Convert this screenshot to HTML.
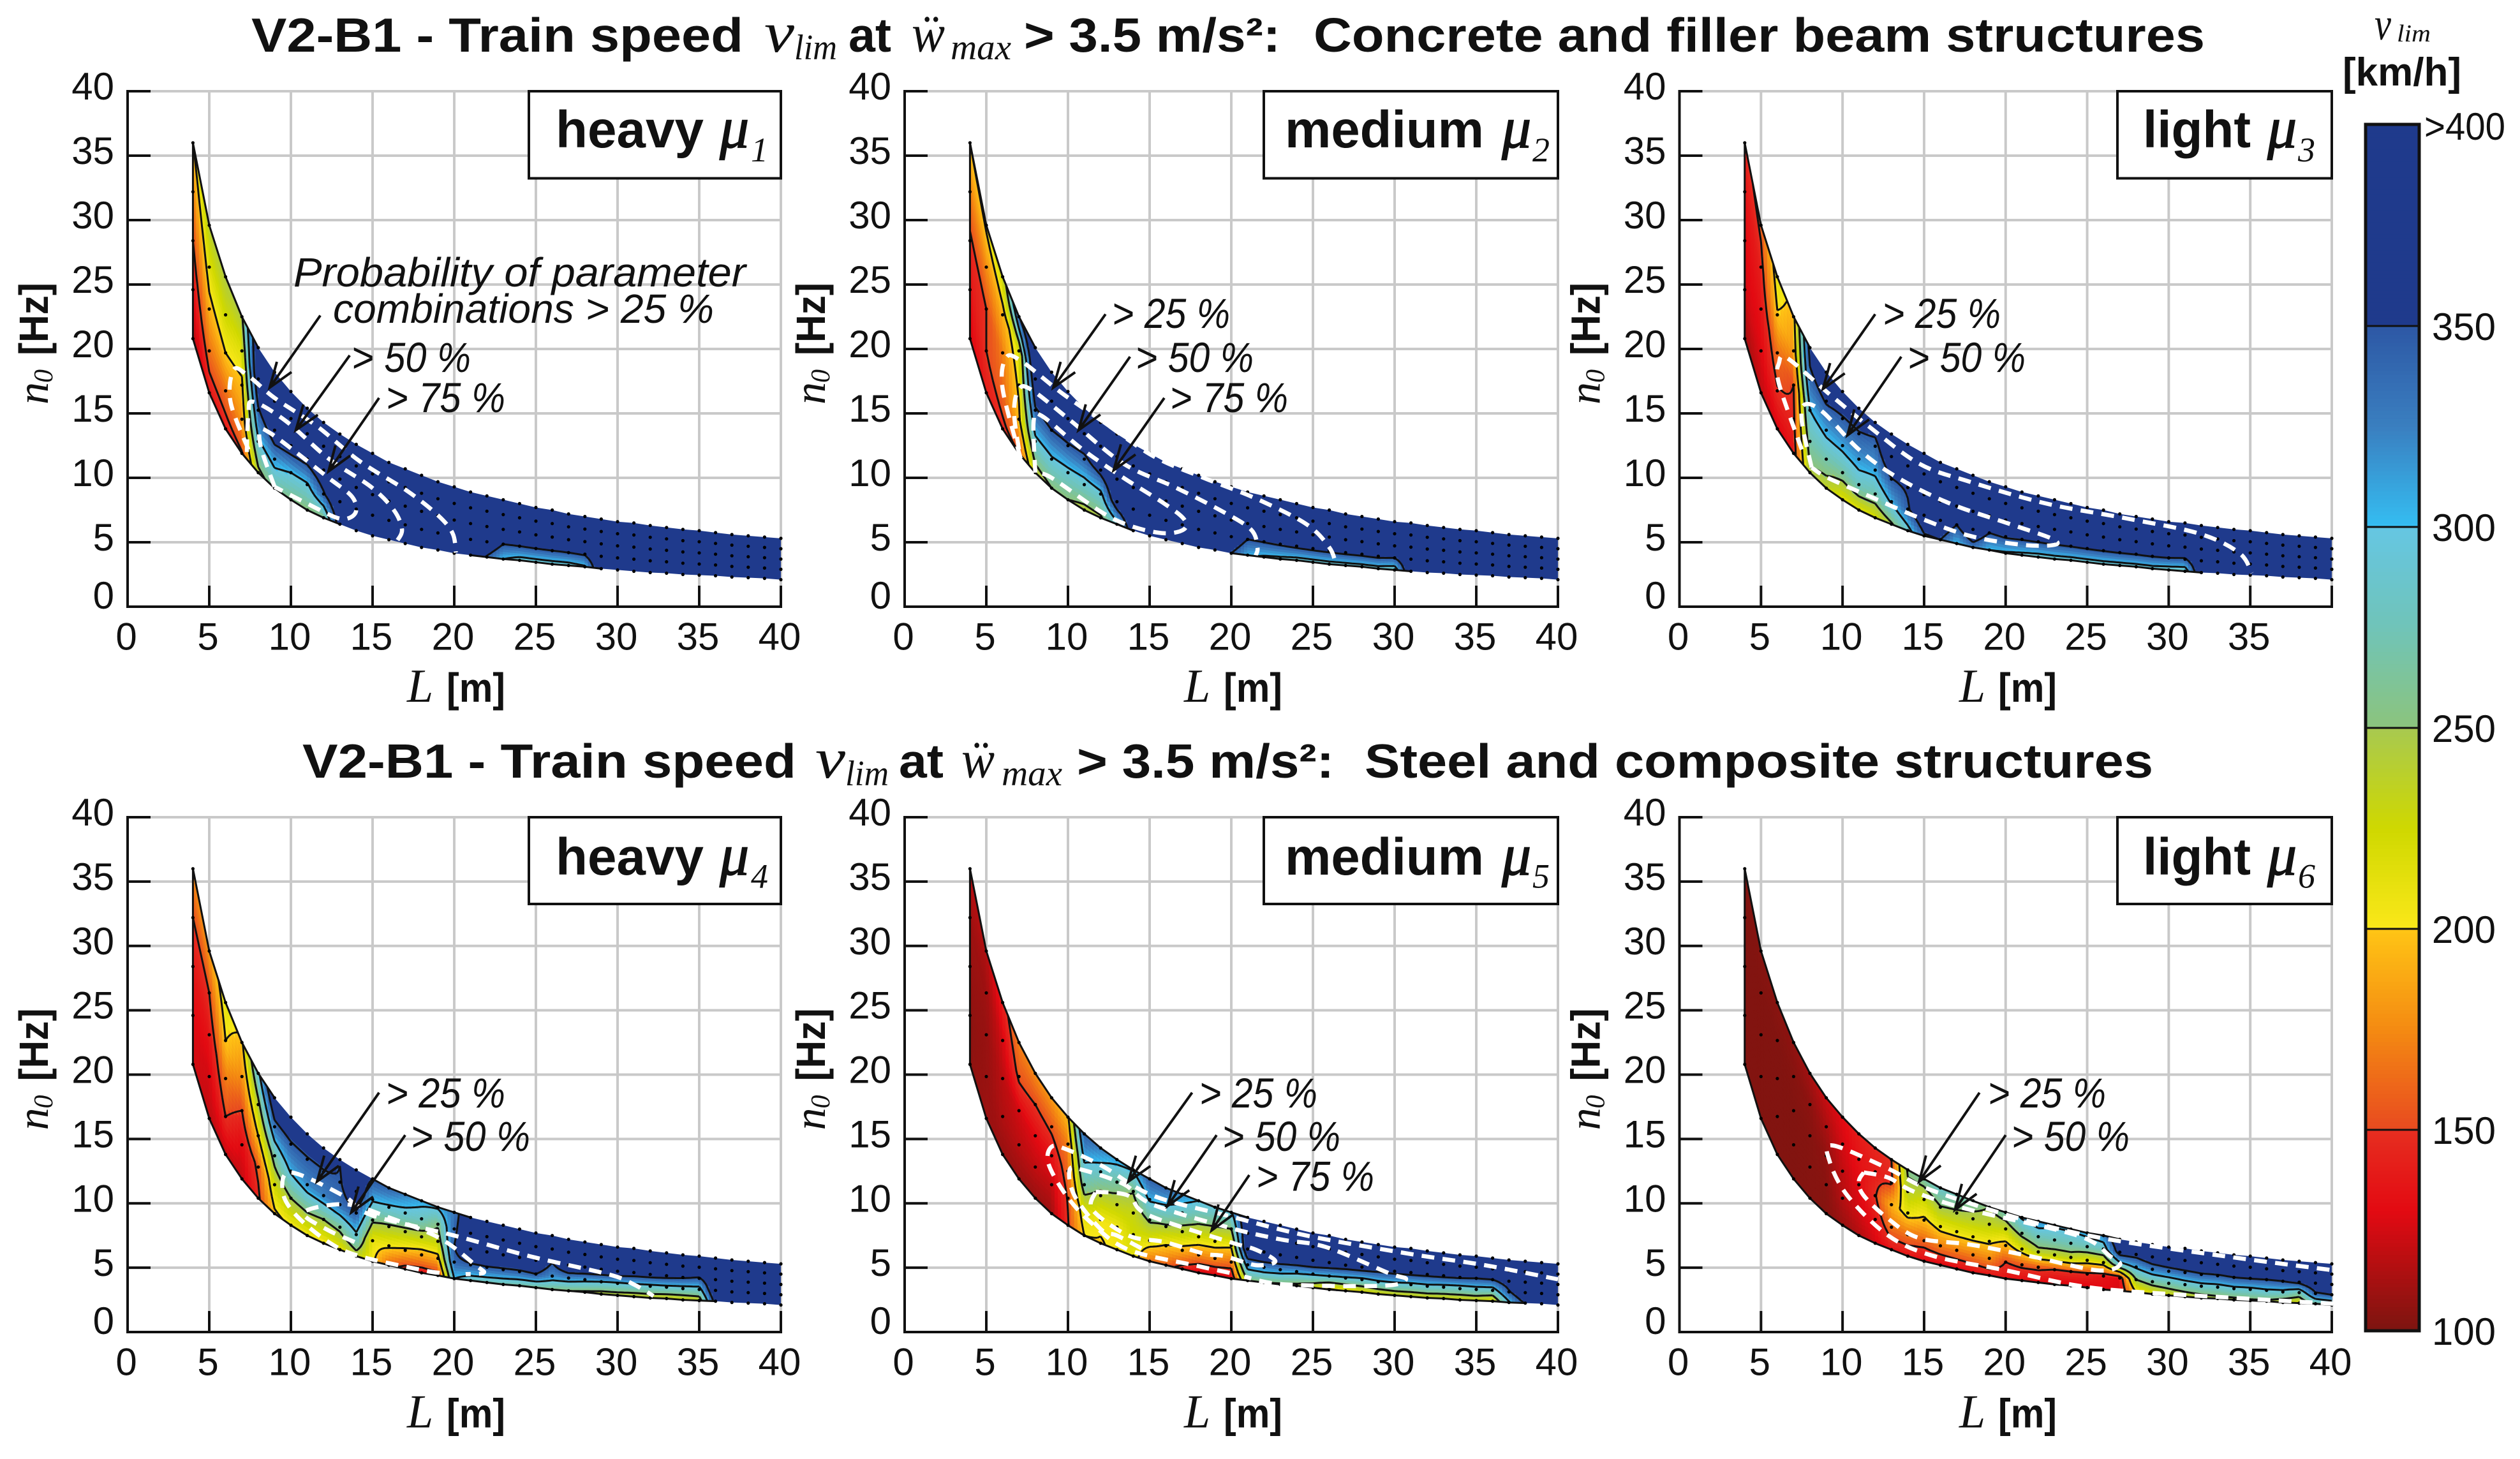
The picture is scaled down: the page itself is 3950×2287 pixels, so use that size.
<!DOCTYPE html>
<html lang="en">
<head>
<meta charset="utf-8">
<title>V2-B1 train speed charts</title>
<style>
html,body{margin:0;padding:0;background:#fff;}
#page{position:relative;width:3950px;height:2287px;overflow:hidden;background:#fff;}
svg{display:block;}
text{fill:#111;}
.b{font-family:"Liberation Sans",sans-serif;font-weight:bold;}
.s{font-family:"Liberation Sans",sans-serif;}
.i{font-family:"Liberation Sans",sans-serif;font-style:italic;font-size:66px;}
.p{font-family:"Liberation Sans",sans-serif;font-style:italic;font-size:64px;}
.m{font-family:"Liberation Serif",serif;font-style:italic;}
.u{font-family:"Liberation Serif",serif;font-style:italic;stroke:#111;stroke-width:1.5px;}
</style>
</head>
<body>
<div id="page">
<svg id="fig" xmlns="http://www.w3.org/2000/svg" width="3950" height="2287" viewBox="0 0 3950 2287">
<g id="plots"></g>
<g id="colorbar"></g>

<g>
<text class="b" x="394" y="81" font-size="75" textLength="771" lengthAdjust="spacingAndGlyphs">V2-B1 - Train speed</text>
<text class="m" x="1198" y="81" font-size="90" textLength="47" lengthAdjust="spacingAndGlyphs">v</text>
<text class="m" x="1245" y="93" font-size="56" textLength="67" lengthAdjust="spacingAndGlyphs">lim</text>
<text class="b" x="1330" y="81" font-size="75" textLength="67" lengthAdjust="spacingAndGlyphs">at</text>
<text class="m" x="1429" y="81" font-size="84" textLength="52" lengthAdjust="spacingAndGlyphs">ẅ</text>
<text class="m" x="1490" y="93" font-size="56" textLength="95" lengthAdjust="spacingAndGlyphs">max</text>
<text class="b" x="1605" y="81" font-size="75" textLength="402" lengthAdjust="spacingAndGlyphs">&gt; 3.5 m/s²:</text>
<text class="b" x="2059" y="81" font-size="75" textLength="1397" lengthAdjust="spacingAndGlyphs">Concrete and filler beam structures</text>
</g>
<g>
<text class="b" x="474" y="1219" font-size="75" textLength="774" lengthAdjust="spacingAndGlyphs">V2-B1 - Train speed</text>
<text class="m" x="1278" y="1219" font-size="90" textLength="47" lengthAdjust="spacingAndGlyphs">v</text>
<text class="m" x="1325" y="1231" font-size="56" textLength="68" lengthAdjust="spacingAndGlyphs">lim</text>
<text class="b" x="1409" y="1219" font-size="75" textLength="70" lengthAdjust="spacingAndGlyphs">at</text>
<text class="m" x="1507" y="1219" font-size="84" textLength="52" lengthAdjust="spacingAndGlyphs">ẅ</text>
<text class="m" x="1570" y="1231" font-size="56" textLength="95" lengthAdjust="spacingAndGlyphs">max</text>
<text class="b" x="1688" y="1219" font-size="75" textLength="403" lengthAdjust="spacingAndGlyphs">&gt; 3.5 m/s²:</text>
<text class="b" x="2139" y="1219" font-size="75" textLength="1236" lengthAdjust="spacingAndGlyphs">Steel and composite structures</text>
</g>

<g>
<text class="m" x="3722" y="62" font-size="72" textLength="26" lengthAdjust="spacingAndGlyphs">v</text>
<text class="m" x="3757" y="65" font-size="38" textLength="53" lengthAdjust="spacingAndGlyphs">lim</text>
<text class="b" x="3672" y="134" font-size="62" textLength="186" lengthAdjust="spacingAndGlyphs">[km/h]</text>
</g>

<!-- axis titles -->
<g>
<text class="m" x="638" y="1100" font-size="74">L</text><text class="b" x="700" y="1100" font-size="64" textLength="92" lengthAdjust="spacingAndGlyphs">[m]</text>
<text class="m" x="1856" y="1100" font-size="74">L</text><text class="b" x="1918" y="1100" font-size="64" textLength="92" lengthAdjust="spacingAndGlyphs">[m]</text>
<text class="m" x="3071" y="1100" font-size="74">L</text><text class="b" x="3132" y="1100" font-size="64" textLength="92" lengthAdjust="spacingAndGlyphs">[m]</text>
<text class="m" x="638" y="2237.5" font-size="74">L</text><text class="b" x="700" y="2237.5" font-size="64" textLength="92" lengthAdjust="spacingAndGlyphs">[m]</text>
<text class="m" x="1856" y="2237.5" font-size="74">L</text><text class="b" x="1918" y="2237.5" font-size="64" textLength="92" lengthAdjust="spacingAndGlyphs">[m]</text>
<text class="m" x="3071" y="2237.5" font-size="74">L</text><text class="b" x="3132" y="2237.5" font-size="64" textLength="92" lengthAdjust="spacingAndGlyphs">[m]</text>
</g>
<g>
<g transform="translate(0,0)">
<text class="m" transform="translate(75,634) rotate(-90)" font-size="70">n</text>
<text class="m" transform="translate(82,600) rotate(-90)" font-size="42">0</text>
<text class="b" transform="translate(75,557) rotate(-90)" font-size="64" textLength="114" lengthAdjust="spacingAndGlyphs">[Hz]</text>
</g>
<g transform="translate(1218,0)">
<text class="m" transform="translate(75,634) rotate(-90)" font-size="70">n</text>
<text class="m" transform="translate(82,600) rotate(-90)" font-size="42">0</text>
<text class="b" transform="translate(75,557) rotate(-90)" font-size="64" textLength="114" lengthAdjust="spacingAndGlyphs">[Hz]</text>
</g>
<g transform="translate(2432.5,0)">
<text class="m" transform="translate(75,634) rotate(-90)" font-size="70">n</text>
<text class="m" transform="translate(82,600) rotate(-90)" font-size="42">0</text>
<text class="b" transform="translate(75,557) rotate(-90)" font-size="64" textLength="114" lengthAdjust="spacingAndGlyphs">[Hz]</text>
</g>
<g transform="translate(0,1137.5)">
<text class="m" transform="translate(75,634) rotate(-90)" font-size="70">n</text>
<text class="m" transform="translate(82,600) rotate(-90)" font-size="42">0</text>
<text class="b" transform="translate(75,557) rotate(-90)" font-size="64" textLength="114" lengthAdjust="spacingAndGlyphs">[Hz]</text>
</g>
<g transform="translate(1218,1137.5)">
<text class="m" transform="translate(75,634) rotate(-90)" font-size="70">n</text>
<text class="m" transform="translate(82,600) rotate(-90)" font-size="42">0</text>
<text class="b" transform="translate(75,557) rotate(-90)" font-size="64" textLength="114" lengthAdjust="spacingAndGlyphs">[Hz]</text>
</g>
<g transform="translate(2432.5,1137.5)">
<text class="m" transform="translate(75,634) rotate(-90)" font-size="70">n</text>
<text class="m" transform="translate(82,600) rotate(-90)" font-size="42">0</text>
<text class="b" transform="translate(75,557) rotate(-90)" font-size="64" textLength="114" lengthAdjust="spacingAndGlyphs">[Hz]</text>
</g>
</g>

<!-- legend boxes -->
<g>
<g><rect x="829" y="143" width="395" height="136.5" fill="#fff" stroke="#111" stroke-width="4"/>
<text class="b" x="871" y="231" font-size="82" textLength="232" lengthAdjust="spacingAndGlyphs">heavy</text><text class="u" x="1128" y="231" font-size="92">μ</text><text class="m" x="1177" y="253" font-size="54">1</text></g>
<g><rect x="1981" y="143" width="461" height="136.5" fill="#fff" stroke="#111" stroke-width="4"/>
<text class="b" x="2014" y="231" font-size="82" textLength="312" lengthAdjust="spacingAndGlyphs">medium</text><text class="u" x="2354" y="231" font-size="92">μ</text><text class="m" x="2402" y="253" font-size="54">2</text></g>
<g><rect x="3319" y="143" width="336" height="136.5" fill="#fff" stroke="#111" stroke-width="4"/>
<text class="b" x="3359" y="231" font-size="82" textLength="169" lengthAdjust="spacingAndGlyphs">light</text><text class="u" x="3554" y="231" font-size="92">μ</text><text class="m" x="3602" y="253" font-size="54">3</text></g>
<g><rect x="829" y="1281" width="395" height="136" fill="#fff" stroke="#111" stroke-width="4"/>
<text class="b" x="871" y="1371" font-size="82" textLength="232" lengthAdjust="spacingAndGlyphs">heavy</text><text class="u" x="1128" y="1371" font-size="92">μ</text><text class="m" x="1177" y="1391.5" font-size="54">4</text></g>
<g><rect x="1981" y="1281" width="461" height="136" fill="#fff" stroke="#111" stroke-width="4"/>
<text class="b" x="2014" y="1371" font-size="82" textLength="312" lengthAdjust="spacingAndGlyphs">medium</text><text class="u" x="2354" y="1371" font-size="92">μ</text><text class="m" x="2402" y="1391.5" font-size="54">5</text></g>
<g><rect x="3319" y="1281" width="336" height="136" fill="#fff" stroke="#111" stroke-width="4"/>
<text class="b" x="3359" y="1371" font-size="82" textLength="169" lengthAdjust="spacingAndGlyphs">light</text><text class="u" x="3554" y="1371" font-size="92">μ</text><text class="m" x="3602" y="1391.5" font-size="54">6</text></g>
</g>

<!-- probability annotation labels -->
<g>
<text class="p" x="460" y="449" textLength="709" lengthAdjust="spacingAndGlyphs">Probability of parameter</text>
<text class="p" x="522" y="506" textLength="597" lengthAdjust="spacingAndGlyphs">combinations &gt; 25 %</text>
<text class="i" x="551" y="583" textLength="187" lengthAdjust="spacingAndGlyphs">&gt; 50 %</text>
<text class="i" x="605" y="646" textLength="187" lengthAdjust="spacingAndGlyphs">&gt; 75 %</text>
<text class="i" x="1743" y="514" textLength="185" lengthAdjust="spacingAndGlyphs">&gt; 25 %</text>
<text class="i" x="1780" y="583" textLength="185" lengthAdjust="spacingAndGlyphs">&gt; 50 %</text>
<text class="i" x="1834" y="646" textLength="185" lengthAdjust="spacingAndGlyphs">&gt; 75 %</text>
<text class="i" x="2951" y="514" textLength="185" lengthAdjust="spacingAndGlyphs">&gt; 25 %</text>
<text class="i" x="2990" y="583" textLength="185" lengthAdjust="spacingAndGlyphs">&gt; 50 %</text>
<text class="i" x="605" y="1736" textLength="187" lengthAdjust="spacingAndGlyphs">&gt; 25 %</text>
<text class="i" x="644" y="1804" textLength="187" lengthAdjust="spacingAndGlyphs">&gt; 50 %</text>
<text class="i" x="1880" y="1736" textLength="185" lengthAdjust="spacingAndGlyphs">&gt; 25 %</text>
<text class="i" x="1916" y="1804" textLength="185" lengthAdjust="spacingAndGlyphs">&gt; 50 %</text>
<text class="i" x="1969" y="1866.5" textLength="185" lengthAdjust="spacingAndGlyphs">&gt; 75 %</text>
<text class="i" x="3116" y="1736" textLength="185" lengthAdjust="spacingAndGlyphs">&gt; 25 %</text>
<text class="i" x="3153" y="1804" textLength="185" lengthAdjust="spacingAndGlyphs">&gt; 50 %</text>
</g>
</svg>
</div>

<script>
// ---- axis labels ----
const xTickValues = [0,5,10,15,20,25,30,35,40];
const yTickValues = [0,5,10,15,20,25,30,35,40];
const colorbarValues = [100,150,200,250,300,350];
const colorbarTopLabel = ">400";

// ---- parameter band, read per integer span ----
const spanLengths = [4,5,6,7,8,9,10,11,12,13,14,15,16,17,18,19,20,21,22,23,24,25,26,27,28,29,30,31,32,33,34,35,36,37,38,39,40];
const upperBound = [36,29.6,25.6,22.5,20.1,18.2,16.7,15.4,14.3,13.4,12.6,11.9,11.2,10.7,10.2,9.7,9.3,8.9,8.6,8.3,8,7.7,7.5,7.2,7,6.8,6.6,6.5,6.3,6.15,6,5.9,5.75,5.6,5.5,5.4,5.3];
const lowerBound = [20.8,16.6,13.8,11.9,10.4,9.2,8.3,7.5,6.9,6.4,5.9,5.5,5.2,4.9,4.6,4.4,4.15,4,3.85,3.7,3.6,3.45,3.3,3.2,3.1,2.95,2.85,2.75,2.65,2.6,2.5,2.45,2.4,2.3,2.25,2.2,2.1];

// ---- vlim [km/h] by span (rows) and position across the band, bottom to top (columns) ----
const fieldMu1 = [
[115,132,150,172,198],[135,165,190,215,240],[140,165,200,225,245],[148,180,195,215,245],
[240,295,345,395,400],[265,315,385,400,400],[255,300,375,400,400],[250,295,365,400,400],
[255,345,385,400,400],[375,400,400,400,400],[400,400,400,400,400],[400,400,400,400,400],
[400,400,400,400,400],[400,400,400,400,400],[400,400,400,400,400],[400,400,400,400,400],
[400,400,400,400,400],[400,400,400,400,400],[345,400,400,400,400],[300,350,400,400,400],
[285,350,400,400,400],[285,350,400,400,400],[285,350,400,400,400],[285,350,400,400,400],
[295,355,400,400,400],[400,400,400,400,400],[400,400,400,400,400],[400,400,400,400,400],
[400,400,400,400,400],[400,400,400,400,400],[400,400,400,400,400],[400,400,400,400,400],
[400,400,400,400,400],[400,400,400,400,400],[400,400,400,400,400],[400,400,400,400,400],
[400,400,400,400,400]];
const fieldMu2 = [
[125,135,145,170,200],[140,150,150,175,205],[145,160,170,190,225],[150,195,205,215,345],
[235,290,345,395,400],[250,295,350,400,400],[250,290,345,400,400],[240,285,340,390,400],
[245,290,365,400,400],[285,385,400,400,400],[385,400,400,400,400],[400,400,400,400,400],
[400,400,400,400,400],[400,400,400,400,400],[400,400,400,400,400],[400,400,400,400,400],
[350,400,400,400,400],[305,350,400,400,400],[295,352,400,400,400],[290,355,400,400,400],
[285,360,400,400,400],[285,360,400,400,400],[285,360,400,400,400],[285,360,400,400,400],
[285,360,400,400,400],[285,360,400,400,400],[275,350,400,400,400],[400,400,400,400,400],
[400,400,400,400,400],[400,400,400,400,400],[400,400,400,400,400],[400,400,400,400,400],
[400,400,400,400,400],[400,400,400,400,400],[400,400,400,400,400],[400,400,400,400,400],
[400,400,400,400,400]];
const fieldMu3 = [
[110,125,130,135,145],[120,128,135,142,155],[125,148,165,198,215],[135,145,150,180,190],
[245,270,300,340,365],[235,270,310,355,400],[215,265,310,345,400],[215,280,315,345,400],
[220,270,310,335,375],[245,305,348,395,400],[285,345,355,400,400],[345,390,400,400,400],
[350,400,400,400,400],[300,350,400,400,400],[330,400,400,400,400],[300,350,400,400,400],
[295,355,400,400,400],[290,352,400,400,400],[285,352,400,400,400],[285,352,400,400,400],
[285,352,400,400,400],[285,352,400,400,400],[285,352,400,400,400],[285,352,400,400,400],
[285,352,400,400,400],[285,352,400,400,400],[280,350,400,400,400],[275,345,400,400,400],
[400,400,400,400,400],[400,400,400,400,400],[400,400,400,400,400],[400,400,400,400,400],
[400,400,400,400,400],[400,400,400,400,400],[400,400,400,400,400],[400,400,400,400,400],
[400,400,400,400,400]];
const fieldMu4 = [
[125,130,138,150,175],[120,125,135,150,180],[120,150,170,200,215],[120,130,150,175,195],
[145,155,200,240,290],[195,225,265,335,400],[205,250,305,345,400],[205,255,320,345,400],
[200,250,325,345,400],[210,260,335,345,352],[235,295,345,395,400],[205,210,255,305,350],
[160,205,245,295,340],[140,195,240,290,325],[135,185,235,280,310],[140,190,230,255,305],
[300,340,350,340,330],[280,345,400,400,400],[275,348,400,400,400],[270,345,400,400,400],
[265,345,400,400,400],[260,350,400,400,400],[255,320,350,400,400],[250,320,400,400,400],
[245,310,395,400,400],[235,300,390,400,400],[235,295,385,400,400],[230,295,375,400,400],
[230,290,370,400,400],[225,290,365,400,400],[225,285,355,400,400],[230,285,345,400,400],
[370,400,400,400,400],[400,400,400,400,400],[400,400,400,400,400],[400,400,400,400,400],
[400,400,400,400,400]];
const fieldMu5 = [
[105,105,108,110,118],[110,108,108,110,115],[108,115,118,125,140],[108,118,125,155,170],
[108,120,130,150,175],[110,120,135,155,180],[148,152,160,170,195],[200,220,270,305,345],
[198,205,240,285,325],[205,205,235,265,310],[215,225,230,252,302],[165,215,255,305,345],
[160,198,245,295,340],[140,190,235,280,320],[125,175,220,262,300],[125,175,215,255,295],
[125,165,205,250,295],[250,320,400,400,400],[250,325,400,400,400],[245,320,400,400,400],
[240,310,400,400,400],[225,305,395,400,400],[195,300,385,400,400],[205,295,375,400,400],
[215,290,375,400,400],[220,295,365,400,400],[225,295,365,400,400],[225,290,365,400,400],
[225,290,360,400,400],[225,285,360,400,400],[225,280,355,400,400],[225,285,350,400,400],
[215,280,350,395,400],[295,345,375,400,400],[355,400,400,400,400],[400,400,400,400,400],
[360,400,400,400,400]];
const fieldMu6 = [
[102,102,102,102,102],[102,102,102,102,103],[102,102,102,102,104],[102,102,102,103,106],
[103,103,103,105,112],[103,104,106,113,122],[108,116,120,125,130],[115,125,130,135,140],
[125,135,148,140,145],[135,165,190,145,150],[135,165,210,240,255],[130,160,195,225,265],
[125,170,210,248,285],[128,170,210,245,275],[130,170,208,240,265],[135,175,205,235,250],
[135,150,190,230,270],[130,155,215,260,305],[130,155,240,275,320],[125,150,235,275,305],
[125,150,235,275,305],[125,145,215,275,310],[130,135,215,280,320],[125,130,280,370,395],
[200,250,305,365,400],[215,265,325,385,400],[225,270,330,395,400],[230,280,340,400,400],
[235,285,345,400,400],[240,285,345,400,400],[240,290,350,400,400],[245,290,352,400,400],
[245,295,350,400,400],[230,290,350,400,400],[220,270,360,400,400],[260,345,390,400,400],
[265,350,400,400,400]];
const contourLevels = [150,200,250,300,350];

// ---- probability outlines, [L, n0] ----
const probMu1 = [
[[7.4,12.2],[6.3,15.9],[6.5,18.4],[7.4,17.9],[9,16.2],[11.6,14],[14.2,11.3],[17.1,9],[19,7.1],[19.9,5.7],[20.1,4.2]],
[[7.3,12],[7.4,15],[7.7,15.9],[9.7,14.4],[12.3,11.5],[14.9,9.3],[16.3,7.5],[16.8,6],[16.5,5.1]],
[[9,9.3],[8.2,12.2],[8.1,13.7],[8.7,13.5],[10.3,12],[12.3,10],[13.7,8.6],[14,7.5],[13.6,6.9],[12.8,6.9],[11,8],[9,9.3]]];
const probMu2 = [
[[7.1,11.5],[6,16.9],[6.2,19.3],[7.1,19.1],[9.6,16.6],[12.1,14.4],[15.2,11.7],[18.3,10],[21.5,8.4],[24.6,6.4],[26,4.6],[26.4,3.3]],
[[7,12.2],[6.7,15.1],[7,16.9],[7.8,16.8],[10.2,14.4],[13.4,11.1],[16.5,9.3],[19.3,7.5],[21.2,6],[21.6,4.6],[21.5,4]],
[[8,10.4],[7.9,14.4],[8.4,14.8],[10.9,12.2],[13.4,10],[15.9,8],[17.1,6.8],[17.1,6],[15.9,5.7],[14,6.2],[12.1,7.3],[9,10],[8,10.4]]];
const probMu3 = [
[[7.5,12.2],[6.1,17.3],[6.1,18.9],[6.6,19.3],[9.1,16.6],[11.6,14],[14.7,11.1],[17.8,9.7],[22.5,8],[27.2,6.9],[31.8,5.7],[34.3,4.2],[35.1,2.6]],
[[8.1,10.8],[7.5,14.4],[7.7,15.7],[8.8,15.1],[11,12.2],[13.4,10],[16.6,8],[20.3,6.4],[22.8,5.3],[23,4.8],[21,4.8],[17.8,5.5],[14.7,6.9],[11.6,8.6],[9.1,10],[8.1,10.8]]];
const probMu4 = [
[[19.1,4.6],[18.1,4.8],[14.2,5.9],[12.3,7],[10.3,9.1],[9.5,10.9],[10,12.4],[13.2,10.6],[14.9,9.1],[20,7.5],[24.6,5.9],[29.4,4.5],[31,3.7],[32.2,2.8]],
[[13.9,7],[12.3,7.9],[10.8,9.1],[11.6,9.7],[13.6,9.9],[15.8,9],[19.1,7.3],[21.3,5.2],[21.8,4.6],[20.7,4.5]]];
const probMu5 = [
[[19.9,4.6],[17.7,5.2],[13.7,6.4],[11.5,8.4],[9.9,10.6],[8.8,13.1],[9,14.4],[9.9,14.2],[12.1,12.9],[15.2,10.6],[19.9,9],[24.6,7.5],[30.8,6.1],[35.5,5.2],[40,4.1]],
[[14.5,6.5],[13,7.5],[12,8],[10.4,10.6],[10.1,12.6],[10.9,12.6],[13.4,11.5],[15.2,9.9],[19.9,8.1],[23,7.2],[25.8,6.6],[29.6,4.6],[30.7,4.1],[29.3,3.6],[23.3,3.7],[20.8,4.3]],
[[11.7,10.9],[13.7,10.6],[14.9,9.1],[19.9,7],[21.5,6.4],[22.7,5.5],[21.5,5.2],[19.6,5.9],[18.3,6.1],[15.9,7],[13.7,7.5],[11.5,9.5],[11.7,10.9]]];
const probMu6 = [
[[40.1,2.2],[33.4,2.7],[27.2,3.2],[24,3.7],[20,4.8],[15.6,5.9],[12.8,7.5],[10.3,10.6],[9.2,13.3],[9.4,14.5],[12.8,12.7],[15.3,11.1],[20.9,8.8],[25.9,7.3],[33.4,5.9],[40.1,4.8]],
[[11.3,12.4],[12.8,12],[14.4,10.9],[17.8,9.5],[24.4,7.5],[26.4,5.9],[27,5.2],[25.6,4.8],[21.5,5.9],[17.8,6.8],[14.7,7.3],[12.8,8.8],[11.3,10.6],[11,11.7],[11.3,12.4]]];

// ---- pointer arrows, tail and tip as [L, n0, L, n0] ----
const arrowsMu1 = [[11.8,22.6,8.7,17],[13.6,19.5,10.3,13.7],[15.4,16.2,12.3,10.5]];
const arrowsMu2 = [[12.3,22.7,9.1,17],[13.8,19.4,10.65,13.7],[15.9,16.2,12.8,10.6]];
const arrowsMu3 = [[12,22.7,8.8,16.9],[13.6,19.4,10.3,13.3]];
const arrowsMu4 = [[15.4,18.6,11.6,11.7],[17,15.3,13.7,9.3]];
const arrowsMu5 = [[17.6,18.6,13.7,11.7],[19.1,15.3,16.1,9.8],[21.1,12.2,18.8,7.9]];
const arrowsMu6 = [[18.4,18.6,14.7,11.7],[20,15.3,16.9,9.5]];

// ---- colour scale, matches the colour bar ----
const colorScale = [[100,"#7b1510"],[130,"#e30a12"],[150,"#e62e20"],[150.01,"#e84a20"],[175,"#f48a12"],[200,"#ffc515"],[200.01,"#fbe81a"],[225,"#cfd800"],[250,"#a8c950"],[250.01,"#8cc47c"],[275,"#70c4b8"],[300,"#65c6e3"],[300.01,"#35bef2"],[325,"#3a7fc0"],[350,"#2d58a5"],[350.01,"#1f3a8c"],[400,"#1f3a8c"]];

const SVGNS = "http://www.w3.org/2000/svg";
function make(tag, attrs, parent){
  const n = document.createElementNS(SVGNS, tag);
  for (const k in attrs) n.setAttribute(k, attrs[k]);
  parent.appendChild(n);
  return n;
}
function hexToRgb(h){ return [parseInt(h.substr(1,2),16),parseInt(h.substr(3,2),16),parseInt(h.substr(5,2),16)]; }
function colorFor(v){
  if (v <= colorScale[0][0]) return colorScale[0][1];
  for (let i = 1; i < colorScale.length; i++){
    if (v <= colorScale[i][0]){
      const a = colorScale[i-1], b = colorScale[i];
      const t = (v-a[0])/(b[0]-a[0]);
      const A = hexToRgb(a[1]), B = hexToRgb(b[1]);
      return "rgb("+Math.round(A[0]+(B[0]-A[0])*t)+","+Math.round(A[1]+(B[1]-A[1])*t)+","+Math.round(A[2]+(B[2]-A[2])*t)+")";
    }
  }
  return colorScale[colorScale.length-1][1];
}

const panels = [
 {id:1,x0:200,x1:1224,top:143,bot:951,field:fieldMu1,prob:probMu1,arrows:arrowsMu1,xLabels:true},
 {id:2,x0:1418,x1:2442,top:143,bot:951,field:fieldMu2,prob:probMu2,arrows:arrowsMu2,xLabels:true},
 {id:3,x0:2632.5,x1:3655,top:143,bot:951,field:fieldMu3,prob:probMu3,arrows:arrowsMu3,xLabels:false},
 {id:4,x0:200,x1:1224,top:1281,bot:2088,field:fieldMu4,prob:probMu4,arrows:arrowsMu4,xLabels:true},
 {id:5,x0:1418,x1:2442,top:1281,bot:2088,field:fieldMu5,prob:probMu5,arrows:arrowsMu5,xLabels:true},
 {id:6,x0:2632.5,x1:3655,top:1281,bot:2088,field:fieldMu6,prob:probMu6,arrows:arrowsMu6,xLabels:true}
];
const SUB_L = 5, SUB_T = 6;

function smoothPath(pts){
  let d = "M"+pts[0][0].toFixed(1)+" "+pts[0][1].toFixed(1);
  for (let i = 0; i < pts.length-1; i++){
    const p0 = pts[Math.max(0,i-1)], p1 = pts[i], p2 = pts[i+1], p3 = pts[Math.min(pts.length-1,i+2)];
    const c1x = p1[0]+(p2[0]-p0[0])/6, c1y = p1[1]+(p2[1]-p0[1])/6;
    const c2x = p2[0]-(p3[0]-p1[0])/6, c2y = p2[1]-(p3[1]-p1[1])/6;
    d += "C"+c1x.toFixed(1)+" "+c1y.toFixed(1)+" "+c2x.toFixed(1)+" "+c2y.toFixed(1)+" "+p2[0].toFixed(1)+" "+p2[1].toFixed(1);
  }
  return d;
}

function drawPanel(p){
  const root = document.getElementById("plots");
  const g = make("g", {}, root);
  
  
  const X = L => p.x0 + (L/40)*(p.x1-p.x0);
  const Y = n => p.bot - (n/40)*(p.bot-p.top);

  // grid
  const grid = make("g", {stroke:"#c9c9c9","stroke-width":4}, g);
  
  
  xTickValues.forEach(v => {
    const l = make("line", {x1:X(v),x2:X(v),y1:Y(0),y2:Y(40)}, grid);
    
    
  });
  yTickValues.forEach(v => {
    const l = make("line", {x1:X(0),x2:X(40),y1:Y(v),y2:Y(v)}, grid);
    
    
  });

  // parameter band in navy
  let bandPts = [];
  spanLengths.forEach((L,i) => bandPts.push(X(L).toFixed(1)+","+Y(upperBound[i]).toFixed(1)));
  for (let i = spanLengths.length-1; i >= 0; i--) bandPts.push(X(spanLengths[i]).toFixed(1)+","+Y(lowerBound[i]).toFixed(1));
  const band = make("polygon", {points:bandPts.join(" "),fill:colorFor(400)}, g);
  
  

  // fine mesh interpolated from the field
  const cols = (spanLengths.length-1)*SUB_L+1, rows = 4*SUB_T+1;
  const mesh = [];
  for (let c = 0; c < cols; c++){
    const ci = Math.min(Math.floor(c/SUB_L), spanLengths.length-2), u = c/SUB_L-ci;
    const L = spanLengths[ci]+(spanLengths[ci+1]-spanLengths[ci])*u;
    const lo = lowerBound[ci]+(lowerBound[ci+1]-lowerBound[ci])*u;
    const hi = upperBound[ci]+(upperBound[ci+1]-upperBound[ci])*u;
    const col = [];
    for (let r = 0; r < rows; r++){
      const rj = Math.min(Math.floor(r/SUB_T), 3), w = r/SUB_T-rj;
      const t = r/(rows-1);
      const a = p.field[ci][rj]*(1-w)+p.field[ci][rj+1]*w;
      const b = p.field[ci+1][rj]*(1-w)+p.field[ci+1][rj+1]*w;
      col.push({x:X(L),y:Y(lo+(hi-lo)*t),v:a*(1-u)+b*u});
    }
    mesh.push(col);
  }

  // heat cells
  const heat = make("g", {}, g);
  
  
  for (let c = 0; c < cols-1; c++){
    for (let r = 0; r < rows-1; r++){
      const A = mesh[c][r], B = mesh[c+1][r], C = mesh[c+1][r+1], D = mesh[c][r+1];
      const mean = (A.v+B.v+C.v+D.v)/4;
      if (mean >= 350.01) continue;
      const col = colorFor(mean);
      const cell = make("polygon", {points:A.x.toFixed(1)+","+A.y.toFixed(1)+" "+B.x.toFixed(1)+","+B.y.toFixed(1)+" "+C.x.toFixed(1)+","+C.y.toFixed(1)+" "+D.x.toFixed(1)+","+D.y.toFixed(1),fill:col,stroke:col,"stroke-width":1}, heat);
      
      
    }
  }

  // contours by marching squares
  const contourGroup = make("g", {fill:"none",stroke:"#111","stroke-width":3,"stroke-linejoin":"round"}, g);
  
  
  contourLevels.forEach(level => {
    let d = "";
    for (let c = 0; c < cols-1; c++){
      for (let r = 0; r < rows-1; r++){
        const corner = [mesh[c][r], mesh[c+1][r], mesh[c+1][r+1], mesh[c][r+1]];
        const hits = [];
        for (let e = 0; e < 4; e++){
          const a = corner[e], b = corner[(e+1)%4];
          if ((a.v < level) !== (b.v < level)){
            const t = (level-a.v)/(b.v-a.v);
            hits.push([a.x+(b.x-a.x)*t, a.y+(b.y-a.y)*t]);
          }
        }
        for (let h = 0; h+1 < hits.length; h += 2){
          d += "M"+hits[h][0].toFixed(1)+" "+hits[h][1].toFixed(1)+"L"+hits[h+1][0].toFixed(1)+" "+hits[h+1][1].toFixed(1);
        }
      }
    }
    if (d){
      const path = make("path", {d:d}, contourGroup);
      
      
    }
  });

  // outline where the band is not navy
  let edge = "M"+X(4)+" "+Y(lowerBound[0])+"L"+X(4)+" "+Y(upperBound[0]);
  for (let i = 0; i < spanLengths.length-1; i++){
    if (Math.min(p.field[i][4], p.field[i+1][4]) < 350) edge += "M"+X(spanLengths[i])+" "+Y(upperBound[i])+"L"+X(spanLengths[i+1])+" "+Y(upperBound[i+1]);
    if (Math.min(p.field[i][0], p.field[i+1][0]) < 350) edge += "M"+X(spanLengths[i])+" "+Y(lowerBound[i])+"L"+X(spanLengths[i+1])+" "+Y(lowerBound[i+1]);
  }
  const outline = make("path", {d:edge,fill:"none",stroke:"#111","stroke-width":3}, g);
  
  

  // sample points
  const dots = make("g", {fill:"#000"}, g);
  
  
  for (let i = 0; i < spanLengths.length; i++){
    for (let j = 0; j < 5; j++){
      const m = mesh[i*SUB_L][j*SUB_T];
      const dot = make("circle", {cx:m.x.toFixed(1),cy:m.y.toFixed(1),r:2.6}, dots);
      
      
    }
  }

  // probability outlines
  const probGroup = make("g", {fill:"none",stroke:"#fff","stroke-width":6.5,"stroke-dasharray":"20 13","stroke-linecap":"butt"}, g);
  
  
  p.prob.forEach(loop => {
    const path = make("path", {d:smoothPath(loop.map(q => [X(q[0]),Y(q[1])]))}, probGroup);
    
    
  });

  // arrows
  const arrowGroup = make("g", {fill:"none",stroke:"#111","stroke-width":4}, g);
  
  
  p.arrows.forEach(a => {
    const x1 = X(a[0]), y1 = Y(a[1]), x2 = X(a[2]), y2 = Y(a[3]);
    const ang = Math.atan2(y1-y2, x1-x2), len = 42, spread = 0.34;
    const hx1 = x2+len*Math.cos(ang+spread), hy1 = y2+len*Math.sin(ang+spread);
    const hx2 = x2+len*Math.cos(ang-spread), hy2 = y2+len*Math.sin(ang-spread);
    const d = "M"+x1.toFixed(1)+" "+y1.toFixed(1)+"L"+x2.toFixed(1)+" "+y2.toFixed(1)+"M"+hx1.toFixed(1)+" "+hy1.toFixed(1)+"L"+x2.toFixed(1)+" "+y2.toFixed(1)+"L"+hx2.toFixed(1)+" "+hy2.toFixed(1);
    const path = make("path", {d:d}, arrowGroup);
    
    
  });

  // axes
  const axes = make("g", {stroke:"#111","stroke-width":4}, g);
  
  
  const xAxis = make("line", {x1:X(0)-2,x2:X(40)+2,y1:Y(0),y2:Y(0)}, axes);
  
  
  const yAxis = make("line", {x1:X(0),x2:X(0),y1:Y(0),y2:Y(40)-2}, axes);
  
  
  xTickValues.forEach(v => {
    if (v > 0){
      const t = make("line", {x1:X(v),x2:X(v),y1:Y(0),y2:Y(0)-33}, axes);
      
      
    }
    if (v < 40 || p.xLabels){
      const lab = make("text", {x:X(v)-2,y:Y(0)+67.5,"font-size":60,"text-anchor":"middle","class":"s"}, g);
      lab.textContent = String(v);
      
      
    }
  });
  yTickValues.forEach(v => {
    if (v > 0){
      const t = make("line", {x1:X(0),x2:X(0)+36,y1:Y(v),y2:Y(v)}, axes);
      
      
    }
    const lab = make("text", {x:X(0)-21,y:Y(v)+(v===0?3:13),"font-size":60,"text-anchor":"end","class":"s"}, g);
    lab.textContent = String(v);
    
    
  });
}
panels.forEach(drawPanel);

// colour bar
(function(){
  const root = document.getElementById("colorbar");
  const barLeft = 3708, barRight = 3792, yOf = v => 2086-(v-100)*6.3;
  for (let v = 100; v < 400; v++){
    const mid = v+0.5;
    const slice = make("rect", {x:barLeft,width:barRight-barLeft,y:(yOf(v+1)).toFixed(1),height:7.3,fill:colorFor(mid)}, root);
    
    
  }
  const frame = make("rect", {x:3708,y:195,width:84,height:1891,fill:"none",stroke:"#111","stroke-width":5}, root);
  
  
  colorbarValues.forEach(v => {
    const line = make("line", {x1:barLeft,x2:barRight,y1:yOf(v),y2:yOf(v),stroke:"#111","stroke-width":3}, root);
    
    
    const lab = make("text", {x:3912,y:yOf(v)+22,"font-size":60,"text-anchor":"end","class":"s"}, root);
    lab.textContent = String(v);
    
    
  });
  const top = make("text", {x:3800,y:219,"font-size":60,"class":"s",textLength:127,lengthAdjust:"spacingAndGlyphs"}, root);
  top.textContent = colorbarTopLabel;
  
  
})();
</script>
</body>
</html>
